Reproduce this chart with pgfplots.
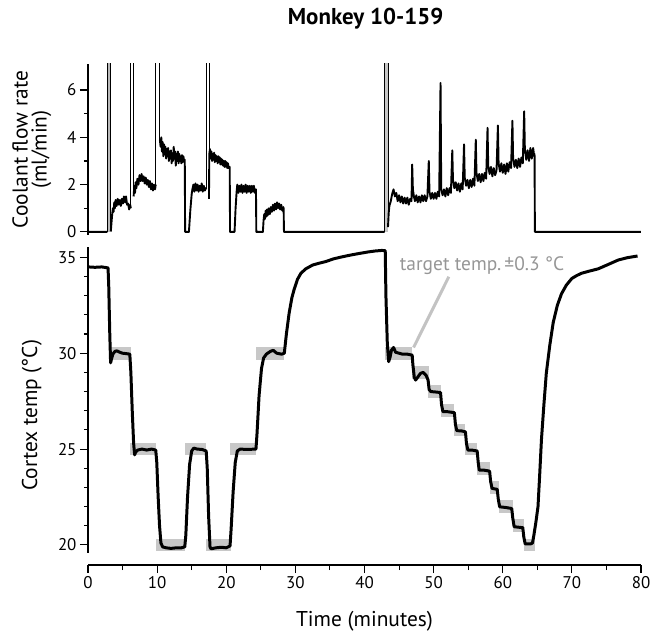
\documentclass[border=0pt]{standalone}
\usepackage{pgfplots}
\pgfplotsset{compat=1.18}
\usepackage{fontspec}
\setmainfont{PT Sans}
\definecolor{boxgray}{RGB}{200,200,200}
\definecolor{notegray}{RGB}{150,150,150}
\definecolor{leadgray}{RGB}{195,195,195}
\newcommand\tickfont{\fontsize{17}{19}\selectfont}
\newcommand\labfont{\fontsize{21.5}{22}\selectfont}

\pgfplotsset{
  panel/.style={
    scale only axis, width=553bp, xmin=0, xmax=80,
    axis x line=none, axis y line*=left,
    axis line style={line width=1.6pt},
    tick style={line width=1.1pt, black},
    tick align=outside,
    major tick length=8bp, minor tick length=4bp,
    minor y tick num=1,
    yticklabel style={font=\tickfont},
    /pgf/number format/assume math mode=true,
    ylabel style={font=\labfont, align=center},
    clip mode=individual,
    unbounded coords=jump,
  }
}

\begin{document}
\begin{tikzpicture}
\useasboundingbox (0,0) rectangle (663bp,635bp);

% ---------- coolant flow ----------
\begin{axis}[panel, at={(88bp,400bp)}, anchor=south west, height=171bp,
  ymin=-0.13, ymax=7.1, ytick={0,2,4,6}, minor ytick={1,3,5},
  ylabel={Coolant flow rate\\[-3pt](ml/min)},
  ylabel style={at={(axis description cs:-0.06,0.5)}, anchor=south},
  ]
\addplot[fill=gray!55, draw=none, forget plot] coordinates {(2.8,0)(3.3,0)(3.3,9)(2.8,9)} -- cycle;
\addplot[fill=gray!45, draw=none, forget plot] coordinates {(42.9,0)(43.4,0)(43.4,9)(42.9,9)} -- cycle;
% flush pulses
\addplot[black, line width=0.9pt, forget plot] coordinates {
(2.8,0)(2.8,9)(3.3,9)(3.3,0.02)(3.3,nan)
(6.2,1.0)(6.2,9)(6.6,9)(6.6,1.5)(6.6,nan)
(9.8,2.0)(9.8,9)(10.4,9)(10.4,3.9)(10.4,nan)
(17.1,1.8)(17.1,9)(17.5,9)(17.5,1.4)(17.5,nan)
(42.9,0)(42.9,9)(43.4,9)(43.4,0.2)};
\addplot[black, line width=1.9pt, line join=round] coordinates {
(0,0)(2.8,0)(2.8,nan)
(3.3,0.02)(3.4,0.4)(3.5,0.75)(3.6,1.0)(3.7,0.85)(3.8,1.25)(3.9,1.0)(4.0,1.35)(4.15,1.1)(4.3,1.4)(4.45,1.15)(4.6,1.35)(4.75,1.1)(4.9,1.4)(5.05,1.2)(5.2,1.5)(5.35,1.25)(5.5,1.5)(5.65,1.15)(5.8,1.2)(5.95,0.95)(6.1,1.15)(6.2,1.0)(6.2,nan)
(6.6,1.5)(6.7,1.95)(6.8,1.65)(6.9,2.1)(7.0,1.85)(7.15,2.25)(7.3,2.0)(7.45,2.4)(7.6,2.15)(7.75,2.45)(7.9,2.15)(8.05,2.35)(8.2,2.05)(8.35,2.3)(8.5,2.0)(8.65,2.2)(8.8,1.9)(8.95,2.15)(9.1,1.8)(9.25,2.05)(9.4,1.75)(9.55,2.0)(9.7,1.8)(9.8,2.0)(9.8,nan)
(10.4,3.9)(10.5,3.6)(10.6,4.0)(10.7,3.4)(10.8,3.8)(10.9,3.2)(11.0,3.7)(11.1,3.3)(11.2,3.6)(11.3,3.1)(11.4,3.5)(11.5,3.2)(11.6,3.55)(11.7,3.0)(11.8,3.4)(11.9,3.1)(12.0,3.45)(12.1,2.9)(12.2,3.3)(12.3,3.0)(12.4,3.6)(12.5,3.1)(12.6,3.4)(12.7,2.8)(12.8,3.3)(12.9,3.0)(13.0,3.4)(13.1,2.9)(13.2,3.3)(13.3,3.0)(13.4,3.2)(13.5,2.9)(13.6,3.25)(13.7,2.95)(13.8,3.2)(13.9,3.0)(14.0,3.05)
(14.05,0)(14.6,0)(14.8,0.9)(15.0,1.6)(15.1,1.8)
(15.25,2.0)(15.4,1.7)(15.55,2.05)(15.7,1.75)(15.85,2.0)(16.0,1.7)(16.15,1.95)(16.3,1.75)(16.45,2.05)(16.6,1.7)(16.75,1.95)(16.9,1.75)(17.05,1.85)(17.1,1.8)(17.1,nan)
(17.5,1.4)(17.55,3.3)(17.65,3.5)(17.75,3.1)(17.85,3.4)(17.95,3.0)(18.05,3.3)(18.15,3.05)(18.25,3.35)(18.35,2.95)(18.45,3.25)(18.55,3.0)(18.65,3.2)(18.75,2.9)(18.85,3.2)(18.95,2.95)(19.05,3.15)(19.15,2.85)(19.25,3.1)(19.35,2.85)(19.45,3.05)(19.55,2.8)(19.65,3.0)(19.75,2.75)(19.85,3.0)(19.95,2.75)(20.05,2.95)(20.15,2.7)(20.25,2.9)(20.35,2.7)(20.5,2.75)
(20.55,0)(21.2,0)(21.35,1.0)(21.5,1.7)
(21.6,2.0)(21.75,1.65)(21.9,1.95)(22.05,1.7)(22.2,2.0)(22.35,1.65)(22.5,1.95)(22.65,1.7)(22.8,2.0)(22.95,1.65)(23.1,1.95)(23.25,1.7)(23.4,1.95)(23.55,1.65)(23.7,1.95)(23.85,1.7)(24.0,1.95)(24.15,1.65)(24.3,1.8)
(24.35,0)(25.3,0)(25.4,0.5)(25.5,0.75)
(25.6,0.55)(25.7,0.9)(25.8,0.65)(25.9,0.95)(26.0,0.7)(26.15,1.0)(26.3,0.75)(26.45,1.05)(26.6,0.85)(26.75,1.15)(26.9,0.9)(27.05,1.2)(27.2,0.95)(27.35,1.25)(27.5,1.0)(27.65,1.2)(27.8,0.95)(27.95,1.15)(28.1,0.9)(28.25,1.05)(28.3,1.0)
(28.35,0)(42.9,0)(42.9,nan)
(43.4,0.2)(43.5,0.8)(43.6,1.1)(43.8,1.3)(44.0,1.6)(44.2,1.8)(44.4,1.5)(44.6,1.65)(44.8,1.3)(45.0,1.55)(45.2,1.25)(45.4,1.5)(45.6,1.2)(45.8,1.45)(46.0,1.2)(46.2,1.45)(46.4,1.15)(46.6,1.4)(46.8,1.3)
(46.9,2.85)(47.0,1.8)(47.15,1.5)(47.3,1.3)(47.5,1.55)(47.7,1.25)(47.9,1.5)(48.1,1.25)(48.3,1.55)(48.5,1.3)(48.7,1.55)(48.9,1.3)(49.1,1.5)
(49.3,3.0)(49.4,1.7)(49.6,1.4)(49.8,1.65)(50.0,1.4)(50.2,1.65)(50.4,1.4)(50.6,1.7)(50.8,1.5)
(51.0,6.3)(51.1,1.8)(51.3,1.55)(51.5,1.8)(51.7,1.5)(51.9,1.85)(52.1,1.55)(52.3,1.85)(52.5,1.65)
(52.7,3.45)(52.8,2.2)(53.0,1.85)(53.2,2.1)(53.4,1.75)(53.6,2.05)(53.8,1.7)(54.0,2.05)(54.2,1.8)
(54.4,3.7)(54.5,2.3)(54.7,1.95)(54.9,2.2)(55.1,1.85)(55.3,2.2)(55.5,1.9)(55.7,2.25)(55.9,1.95)
(56.1,3.9)(56.2,2.5)(56.4,2.15)(56.6,2.45)(56.8,2.1)(57.0,2.45)(57.2,2.15)(57.4,2.5)(57.6,2.25)
(57.8,4.4)(57.9,2.8)(58.1,2.45)(58.3,2.75)(58.5,2.35)(58.7,2.7)(58.9,2.4)(59.1,2.6)
(59.3,4.5)(59.4,2.9)(59.6,2.55)(59.8,2.9)(60.0,2.5)(60.2,2.85)(60.4,2.45)(60.6,2.9)(60.8,2.55)(61.0,2.95)(61.2,2.7)
(61.4,4.7)(61.5,3.1)(61.7,2.75)(61.9,3.05)(62.1,2.7)(62.3,3.1)(62.5,2.75)(62.7,3.15)(62.9,2.9)
(63.1,5.1)(63.2,3.5)(63.4,3.05)(63.6,3.45)(63.8,3.0)(64.0,3.55)(64.2,3.1)(64.4,3.55)(64.55,3.2)(64.6,3.3)
(64.65,0)(80,0)
};
\node[font=\bfseries\fontsize{23}{25}\selectfont] at (rel axis cs:0.502,1.265) {Monkey 10-159};
\end{axis}

% ---------- cortex temperature ----------
\begin{axis}[panel, at={(88bp,82bp)}, anchor=south west, height=306bp,
  ymin=19.58, ymax=35.54, ytick={20,25,30,35}, minor ytick={21,...,34},
  ylabel={Cortex temp (°C)},
  ylabel style={at={(axis description cs:-0.077,0.45)}, anchor=south},
  ]
% target windows, +-0.3 C
\addplot[fill=boxgray, draw=none, forget plot] coordinates {(3.07,29.67)(6.15,29.67)(6.15,30.33)(3.07,30.33)} -- cycle;
\addplot[fill=boxgray, draw=none, forget plot] coordinates {(6.05,24.67)(9.8,24.67)(9.8,25.33)(6.05,25.33)} -- cycle;
\addplot[fill=boxgray, draw=none, forget plot] coordinates {(9.8,19.67)(14.1,19.67)(14.1,20.33)(9.8,20.33)} -- cycle;
\addplot[fill=boxgray, draw=none, forget plot] coordinates {(14.0,24.67)(17.1,24.67)(17.1,25.33)(14.0,25.33)} -- cycle;
\addplot[fill=boxgray, draw=none, forget plot] coordinates {(17.1,19.67)(20.7,19.67)(20.7,20.33)(17.1,20.33)} -- cycle;
\addplot[fill=boxgray, draw=none, forget plot] coordinates {(20.6,24.67)(24.3,24.67)(24.3,25.33)(20.6,25.33)} -- cycle;
\addplot[fill=boxgray, draw=none, forget plot] coordinates {(24.3,29.67)(28.4,29.67)(28.4,30.33)(24.3,30.33)} -- cycle;
\addplot[fill=boxgray, draw=none, forget plot] coordinates {(43.0,29.67)(46.9,29.67)(46.9,30.33)(43.0,30.33)} -- cycle;
\addplot[fill=boxgray, draw=none, forget plot] coordinates {(46.9,28.67)(49.3,28.67)(49.3,29.33)(46.9,29.33)} -- cycle;
\addplot[fill=boxgray, draw=none, forget plot] coordinates {(49.2,27.67)(51.0,27.67)(51.0,28.33)(49.2,28.33)} -- cycle;
\addplot[fill=boxgray, draw=none, forget plot] coordinates {(51.0,26.67)(53.0,26.67)(53.0,27.33)(51.0,27.33)} -- cycle;
\addplot[fill=boxgray, draw=none, forget plot] coordinates {(53.0,25.67)(54.6,25.67)(54.6,26.33)(53.0,26.33)} -- cycle;
\addplot[fill=boxgray, draw=none, forget plot] coordinates {(54.6,24.67)(56.3,24.67)(56.3,25.33)(54.6,25.33)} -- cycle;
\addplot[fill=boxgray, draw=none, forget plot] coordinates {(56.3,23.67)(58.2,23.67)(58.2,24.33)(56.3,24.33)} -- cycle;
\addplot[fill=boxgray, draw=none, forget plot] coordinates {(58.2,22.67)(59.4,22.67)(59.4,23.33)(58.2,23.33)} -- cycle;
\addplot[fill=boxgray, draw=none, forget plot] coordinates {(59.4,21.67)(61.5,21.67)(61.5,22.33)(59.4,22.33)} -- cycle;
\addplot[fill=boxgray, draw=none, forget plot] coordinates {(61.5,20.67)(63.1,20.67)(63.1,21.33)(61.5,21.33)} -- cycle;
\addplot[fill=boxgray, draw=none, forget plot] coordinates {(63.1,19.67)(64.6,19.67)(64.6,20.33)(63.1,20.33)} -- cycle;
% annotation leader
\addplot[leadgray, line width=3pt, forget plot] coordinates {(52.2,33.99)(47.1,30.3)};
\node[text=notegray, font=\fontsize{19.5}{21}\selectfont] at (axis cs:57.0,34.55) {target temp.\,±0.3 °C};
\addplot[black, line width=3pt, line join=round] coordinates {
(0.1,34.5)(1.0,34.48)(2.0,34.5)(2.9,34.45)(3.0,33.5)(3.15,31)(3.27,29.5)(3.4,29.7)(3.6,29.95)(3.9,30.1)(4.2,30.12)(4.6,30.05)(5.0,30.0)(5.5,29.98)(6.05,29.95)
(6.2,29.0)(6.4,27.0)(6.6,25.3)(6.75,24.7)(6.9,24.85)(7.2,24.95)(7.8,25.0)(8.5,24.95)(9.2,25.0)(9.8,24.95)
(9.95,24.3)(10.15,22.5)(10.35,21.0)(10.55,20.1)(10.8,19.9)(11.3,19.85)(12.0,19.82)(12.8,19.85)(13.5,19.85)(14.0,19.9)
(14.15,20.5)(14.4,22.5)(14.7,24.2)(15.0,24.9)(15.3,25.05)(15.8,25.0)(16.5,24.98)(17.1,24.9)
(17.25,24.0)(17.45,21.5)(17.65,19.9)(17.8,19.8)(18.5,19.85)(19.3,19.88)(20.0,19.85)(20.55,19.95)
(20.7,20.8)(21.0,22.8)(21.3,24.3)(21.6,24.9)(22.0,25.0)(23.0,24.98)(24.3,25.0)
(24.45,25.8)(24.75,27.8)(25.1,29.2)(25.4,29.75)(25.8,29.95)(26.4,30.1)(26.8,30.15)(27.3,30.0)(28.0,29.95)(28.4,30.0)
(28.7,31.0)(29.1,32.1)(29.5,32.9)(29.8,33.3)(30.3,33.85)(30.8,34.17)(31.5,34.4)(32.5,34.6)(33.5,34.7)(34.4,34.78)(35.5,34.92)(36.8,35.03)(38.0,35.12)(39.2,35.2)(40.5,35.28)(41.5,35.33)(42.5,35.36)(43.0,35.35)
(43.1,33.0)(43.3,30.5)(43.5,29.56)(43.7,29.8)(43.9,30.15)(44.2,30.3)(44.5,30.05)(45.0,30.0)(45.5,29.95)(46.2,29.95)(46.9,29.9)
(47.0,29.4)(47.2,28.75)(47.4,28.6)(47.7,28.75)(48.1,28.95)(48.5,29.0)(48.9,28.85)(49.2,28.6)
(49.35,28.1)(49.6,28.0)(50.2,27.98)(51.0,27.95)
(51.15,27.3)(51.35,26.95)(52.0,26.95)(53.0,26.9)
(53.15,26.3)(53.35,25.96)(54.0,25.95)(54.6,25.9)
(54.75,25.3)(54.95,24.95)(55.5,24.95)(56.3,24.9)
(56.45,24.3)(56.6,23.9)(57.3,23.9)(58.1,23.85)
(58.25,23.3)(58.45,22.95)(59.2,22.9)
(59.35,22.4)(59.55,21.99)(60.5,21.95)(61.3,21.9)
(61.45,21.4)(61.65,20.95)(62.9,20.9)
(63.05,20.4)(63.25,20.05)(64.0,20.05)(64.3,20.1)
(64.5,20.5)(64.8,21.2)(65.1,22.0)(65.35,23.7)(65.6,25.5)(65.95,27.3)(66.3,28.95)(66.8,30.4)(67.3,31.6)(67.9,32.5)(68.5,33.1)(69.2,33.55)(70.0,33.9)(70.7,34.05)(71.4,34.17)(72.5,34.28)(73.8,34.4)(75.2,34.62)(76.7,34.86)(78.0,34.98)(79.5,35.07)
};
\end{axis}

% ---------- shared time axis ----------
\begin{axis}[scale only axis, width=553bp, height=1bp, at={(88bp,70bp)}, anchor=south west,
  xmin=0, xmax=80, ymin=0, ymax=1,
  axis y line=none, axis x line*=bottom,
  axis line style={line width=1.6pt},
  tick style={line width=1.1pt, black},
  tick align=outside, major tick length=8bp, minor tick length=5bp,
  xtick={0,10,...,80}, minor xtick={5,15,...,75},
  xticklabel style={font=\tickfont},
  /pgf/number format/assume math mode=true,
  xlabel={Time (minutes)},
  xlabel style={font=\labfont, at={(axis description cs:0.5,0)}, anchor=center, yshift=-56bp},
  ]
\end{axis}
\end{tikzpicture}
\end{document}
